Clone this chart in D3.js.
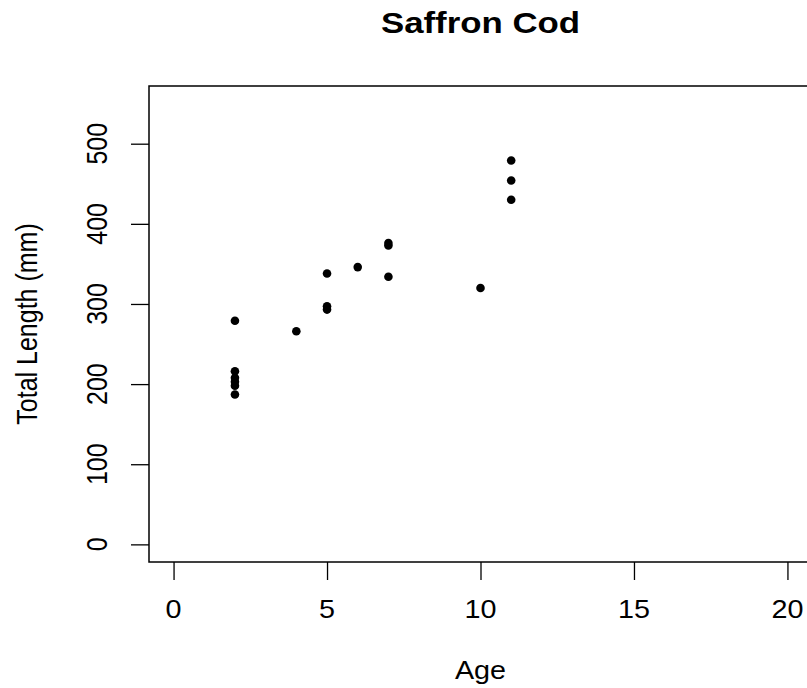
<!DOCTYPE html>
<html>
<head>
<meta charset="utf-8">
<script src="https://cdn.jsdelivr.net/npm/d3@7"></script>
<style>
  body { margin: 0; background: #fff; }
  text { font-family: "Liberation Sans", Arial, sans-serif; fill: #000; }
</style>
</head>
<body>
<script>
// data
var ages    = [2, 2, 2, 2, 2, 2, 4, 5, 5, 5, 6, 7, 7, 7, 10, 11, 11, 11];
var lengths = [279, 216, 208, 203, 198, 187, 266, 338, 297, 293, 346, 376, 373, 334, 320, 479, 454, 430];
var xTicks = [0, 5, 10, 15, 20];
var yTicks = [0, 100, 200, 300, 400, 500];
var title = "Saffron Cod";
var xLabel = "Age";
var yLabel = "Total Length (mm)";

function main() {
  var W = 807, H = 688;
  var box = {left: 149, top: 86, right: 812, bottom: 562};
  var sx = 1.15;   // text in the reference is a bit wide

  var svg = d3.select("body").append("svg")
      .attr("width", W)
      .attr("height", H);

  // R style: limits padded by 4%
  var xScale = d3.scaleLinear()
      .domain([0 - 0.8, 20 + 0.8])
      .range([box.left, box.right]);
  var yScale = d3.scaleLinear()
      .domain([0 - 22, 550 + 22])
      .range([box.bottom, box.top]);

  // x axis
  var xAxis = svg.append("g")
      .attr("transform", "translate(0," + box.bottom + ")")
      .call(d3.axisBottom(xScale).tickValues(xTicks).tickSize(18).tickFormat(""));
  xAxis.select(".domain").remove();
  xAxis.selectAll(".tick line").attr("stroke", "#000").attr("stroke-width", 1.3);

  svg.selectAll(".xlab")
    .data(xTicks)
    .join("text")
    .attr("class", "xlab")
    .attr("text-anchor", "middle")
    .attr("transform", d => "translate(" + xScale(d) + ",618) scale(" + sx + ",1)")
    .style("font-size", "25px")
    .text(d => d);

  // y axis
  var yAxis = svg.append("g")
      .attr("transform", "translate(" + box.left + ",0)")
      .call(d3.axisLeft(yScale).tickValues(yTicks).tickSize(18).tickFormat(""));
  yAxis.select(".domain").remove();
  yAxis.selectAll(".tick line").attr("stroke", "#000").attr("stroke-width", 1.3);

  svg.selectAll(".ylab")
    .data(yTicks)
    .join("text")
    .attr("class", "ylab")
    .attr("text-anchor", "middle")
    .attr("transform", d => "translate(107," + yScale(d) + ") scale(" + sx + ",1) rotate(-90)")
    .style("font-size", "25px")
    .text(d => d);

  // plot box
  svg.append("rect")
    .attr("x", box.left)
    .attr("y", box.top)
    .attr("width", box.right - box.left)
    .attr("height", box.bottom - box.top)
    .attr("fill", "none")
    .attr("stroke", "#000")
    .attr("stroke-width", 1.5);

  // points
  svg.selectAll("circle")
    .data(ages.map((a, i) => [a, lengths[i]]))
    .join("circle")
    .attr("cx", d => xScale(d[0]))
    .attr("cy", d => yScale(d[1]))
    .attr("r", 4.3)
    .attr("fill", "#000");

  // titles
  svg.append("text")
    .attr("text-anchor", "middle")
    .attr("transform", "translate(" + (box.left + box.right) / 2 + ",33) scale(1.2,1)")
    .style("font-size", "29px")
    .style("font-weight", "bold")
    .text(title);

  svg.append("text")
    .attr("text-anchor", "middle")
    .attr("transform", "translate(" + (box.left + box.right) / 2 + ",679) scale(" + sx + ",1)")
    .style("font-size", "25px")
    .text(xLabel);

  svg.append("text")
    .attr("text-anchor", "middle")
    .attr("transform", "translate(37," + (box.top + box.bottom) / 2 + ") scale(" + sx + ",1) rotate(-90)")
    .style("font-size", "25px")
    .text(yLabel);
}
main();
</script>
</body>
</html>
